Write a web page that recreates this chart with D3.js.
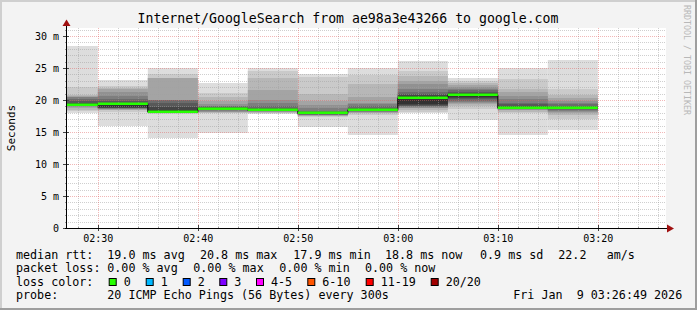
<!DOCTYPE html>
<html>
<head>
<meta charset="utf-8">
<script src="https://cdn.jsdelivr.net/npm/d3@7"></script>
<style>
  body { margin: 0; background: #f3f3f3; }
  svg { display: block; }
  text { font-family: "DejaVu Sans Mono", monospace; white-space: pre; }
</style>
</head>
<body>
<svg id="chart"></svg>
<script>
// 5 minute steps, label = end of step
const steps = ["02:30", "02:35", "02:40", "02:45", "02:50", "02:55", "03:00", "03:05", "03:10", "03:15", "03:20"];
const medians = [19.2, 19.4, 18.1, 18.65, 18.4, 17.9, 18.45, 20.3, 20.8, 18.75, 18.8];
// 20 sorted pings per step (ms)
const pings = [
  [18.0, 18.3, 18.5, 18.7, 18.9, 19.0, 19.1, 19.15, 19.2, 19.25, 19.3, 19.6, 19.9, 20.2, 20.4, 20.5, 20.6, 20.8, 22.0, 28.5],
  [15.9, 18.2, 18.4, 18.5, 18.6, 18.65, 18.7, 18.75, 18.8, 18.85, 19.3, 19.6, 19.9, 20.1, 20.6, 21.2, 21.7, 21.9, 22.2, 23.1],
  [14.0, 17.8, 17.9, 18.0, 18.05, 18.1, 18.1, 18.15, 18.2, 18.3, 18.4, 18.9, 19.5, 20.0, 20.0, 20.0, 23.4, 23.4, 24.0, 24.95],
  [14.9, 17.9, 18.0, 18.1, 18.2, 18.3, 18.4, 18.5, 18.55, 18.6, 18.7, 18.8, 18.9, 19.0, 19.1, 19.3, 19.8, 20.5, 21.1, 22.7],
  [17.75, 17.9, 18.0, 18.1, 18.2, 18.25, 18.3, 18.35, 18.4, 18.45, 18.5, 18.6, 18.8, 19.1, 19.5, 20.0, 21.6, 23.5, 24.5, 24.95],
  [15.8, 17.4, 17.5, 17.55, 17.6, 17.65, 17.7, 17.75, 17.8, 17.85, 17.95, 18.0, 18.1, 18.3, 18.7, 19.2, 19.8, 20.9, 23.6, 24.0],
  [14.6, 17.7, 17.9, 18.0, 18.1, 18.2, 18.25, 18.3, 18.35, 18.4, 18.5, 18.6, 18.8, 19.0, 19.3, 19.6, 20.5, 22.5, 23.9, 24.95],
  [17.9, 18.2, 18.5, 18.7, 18.8, 18.9, 19.0, 19.1, 19.2, 19.4, 20.6, 20.8, 21.0, 21.3, 21.7, 22.5, 23.0, 23.75, 24.5, 26.1],
  [16.8, 18.6, 19.0, 19.3, 19.5, 19.7, 19.9, 20.1, 20.3, 20.5, 20.9, 21.1, 21.3, 21.5, 21.7, 22.0, 22.3, 22.6, 23.0, 23.5],
  [14.5, 18.0, 18.2, 18.4, 18.5, 18.55, 18.6, 18.65, 18.7, 18.75, 18.8, 19.0, 19.3, 19.6, 20.1, 20.6, 21.2, 21.7, 23.3, 24.95],
  [15.3, 17.1, 17.6, 18.0, 18.2, 18.35, 18.45, 18.55, 18.6, 18.65, 18.75, 18.85, 19.0, 19.3, 19.6, 19.9, 20.3, 20.8, 21.7, 26.25]
];
const yTicks = [0, 5, 10, 15, 20, 25, 30];
const xTicks = ["02:30", "02:40", "02:50", "03:00", "03:10", "03:20"];
const lossLabels = ["0", "1", "2", "3", "4-5", "6-10", "11-19", "20/20"];
const lossColors = ["#26ff00", "#00b8ff", "#0059ff", "#7e00ff", "#ff00ff", "#ff5500", "#ff0000", "#a10000"];
const statsRtt = ["19.0 ms avg", "20.8 ms max", "17.9 ms min", "18.8 ms now", "0.9 ms sd", "22.2", "am/s"];
const statsLoss = ["0.00 % avg", "0.00 % max", "0.00 % min", "0.00 % now"];

const W = 697, H = 310;
const pLeft = 66, pRight = 666, pTop = 28, pBottom = 228;

const svg = d3.select("#chart").attr("width", W).attr("height", H);

// background + 3d border
svg.append("rect").attr("width", W).attr("height", H).attr("fill", "#f3f3f3");
svg.append("rect").attr("x", 0).attr("y", 0).attr("width", W).attr("height", 2).attr("fill", "#cfcfcf");
svg.append("rect").attr("x", 0).attr("y", 0).attr("width", 2).attr("height", H).attr("fill", "#cfcfcf");
svg.append("rect").attr("x", 0).attr("y", H - 2).attr("width", W).attr("height", 2).attr("fill", "#9e9e9e");
svg.append("rect").attr("x", W - 2).attr("y", 0).attr("width", 2).attr("height", H).attr("fill", "#9e9e9e");

const parseT = d3.timeParse("%H:%M:%S");
const parseHM = d3.timeParse("%H:%M");

let x = d3.scaleTime()
  .domain([parseT("02:26:49"), parseT("03:26:49")])
  .range([pLeft, pRight]);
let y = d3.scaleLinear()
  .domain([0, 31.25])
  .range([pBottom, pTop]);

const crisp = v => Math.round(v) + 0.5;
const stepStart = i => x(d3.timeMinute.offset(parseHM(steps[i]), -5));
const stepEnd = i => x(parseHM(steps[i]));

// plot canvas
svg.append("rect").attr("x", pLeft).attr("y", pTop).attr("width", pRight - pLeft).attr("height", pBottom - pTop).attr("fill", "#fff");

svg.append("clipPath").attr("id", "clip")
  .append("rect").attr("x", pLeft).attr("y", pTop).attr("width", pRight - pLeft).attr("height", pBottom - pTop);

let plot = svg.append("g").attr("clip-path", "url(#clip)");

// smoke: band k spans ping k to ping 21-k
for (let k = 1; k <= 10; k++) {
  let c = Math.floor(190 / 10 * (10 - k)) + 50;
  let col = d3.rgb(c, c, c).toString();
  plot.selectAll(null)
    .data(pings)
    .enter()
    .append("rect")
    .attr("x", (d, i) => stepStart(i))
    .attr("width", (d, i) => stepEnd(i) - stepStart(i))
    .attr("y", d => Math.round(y(d[20 - k])))
    .attr("height", d => Math.max(1, Math.round(y(d[k - 1])) - Math.round(y(d[20 - k]))))
    .attr("fill", col);
}

// grid over the smoke, semi transparent
let grid = svg.append("g");
let t0 = parseHM("02:28");
d3.range(1, 32).filter(v => v % 5 !== 0).forEach(function (v) {
  grid.append("line")
    .attr("x1", pLeft).attr("x2", pRight)
    .attr("y1", crisp(y(v))).attr("y2", crisp(y(v)))
    .attr("stroke", "#a0a0a0").attr("stroke-opacity", 0.5).attr("stroke-dasharray", "1,1");
});
for (let m = 0; m <= 58; m += 2) {
  let t = d3.timeMinute.offset(t0, m);
  if (t.getMinutes() % 10 === 0) continue;
  grid.append("line")
    .attr("x1", crisp(x(t))).attr("x2", crisp(x(t)))
    .attr("y1", pTop).attr("y2", pBottom)
    .attr("stroke", "#a0a0a0").attr("stroke-opacity", 0.5).attr("stroke-dasharray", "1,1");
}
yTicks.filter(v => v > 0).forEach(function (v) {
  grid.append("line")
    .attr("x1", pLeft).attr("x2", pRight)
    .attr("y1", crisp(y(v))).attr("y2", crisp(y(v)))
    .attr("stroke", "#e06060").attr("stroke-opacity", 0.45).attr("stroke-dasharray", "1,1");
});
xTicks.forEach(function (s) {
  let xx = crisp(x(parseHM(s)));
  grid.append("line")
    .attr("x1", xx).attr("x2", xx)
    .attr("y1", pTop).attr("y2", pBottom)
    .attr("stroke", "#e06060").attr("stroke-opacity", 0.45).attr("stroke-dasharray", "1,1");
});

// median: black step connector, then green per step
let medPts = [];
steps.forEach(function (s, i) {
  medPts.push([stepStart(i), y(medians[i])]);
  medPts.push([stepEnd(i), y(medians[i])]);
});
let medLayer = svg.append("g").attr("clip-path", "url(#clip)");
medLayer.append("path")
  .attr("d", d3.line()(medPts))
  .attr("fill", "none")
  .attr("stroke", "#000")
  .attr("stroke-width", 1);

medLayer.selectAll(null)
  .data(medians)
  .enter()
  .append("rect")
  .attr("x", (d, i) => stepStart(i))
  .attr("width", (d, i) => stepEnd(i) - stepStart(i))
  .attr("y", d => Math.round(y(d)) - 1.5)
  .attr("height", 2.5)
  .attr("fill", lossColors[0]);

// axes
let yAxis = d3.axisLeft(y)
  .tickValues(yTicks)
  .tickSize(0)
  .tickPadding(7)
  .tickFormat(d => d === 0 ? "0" : d + " m");
let gy = svg.append("g").attr("transform", "translate(" + pLeft + ",0)").call(yAxis);
gy.select(".domain").remove();
gy.selectAll("text").attr("font-family", "DejaVu Sans Mono").attr("font-size", 10).attr("fill", "#000");

let xAxis = d3.axisBottom(x)
  .tickValues(xTicks.map(s => parseHM(s)))
  .tickSize(0)
  .tickPadding(6.5)
  .tickFormat(d3.timeFormat("%H:%M"));
let gx = svg.append("g").attr("transform", "translate(0," + pBottom + ")").call(xAxis);
gx.select(".domain").remove();
gx.selectAll("text").attr("font-family", "DejaVu Sans Mono").attr("font-size", 10).attr("fill", "#000");

// tick marks on the axis lines
d3.range(0, 32).forEach(function (v) {
  let major = v % 5 === 0;
  svg.append("line")
    .attr("x1", major ? pLeft - 3 : pLeft - 1).attr("x2", major ? pLeft + 3 : pLeft + 1)
    .attr("y1", crisp(y(v))).attr("y2", crisp(y(v)))
    .attr("stroke", major ? "#444" : "#999");
});
for (let m = 0; m <= 58; m += 2) {
  let t = d3.timeMinute.offset(t0, m);
  let major = t.getMinutes() % 10 === 0;
  svg.append("line")
    .attr("x1", crisp(x(t))).attr("x2", crisp(x(t)))
    .attr("y1", major ? pBottom - 3 : pBottom - 1).attr("y2", major ? pBottom + 3 : pBottom + 1)
    .attr("stroke", major ? "#444" : "#999");
}

svg.append("line").attr("x1", pLeft + 0.5).attr("x2", pLeft + 0.5).attr("y1", pBottom + 1).attr("y2", 23).attr("stroke", "#000");
svg.append("line").attr("x1", pLeft - 1).attr("x2", 670).attr("y1", pBottom + 0.5).attr("y2", pBottom + 0.5).attr("stroke", "#000");
svg.append("path").attr("d", "M" + (pLeft - 3.5) + ",26L" + (pLeft + 0.5) + ",19.5L" + (pLeft + 4.5) + ",26Z").attr("fill", "#a01010");
svg.append("path").attr("d", "M667,224.5L674,228.5L667,232.5Z").attr("fill", "#a01010");

// title, vertical label, watermark
svg.append("text").attr("x", 348).attr("y", 23).attr("text-anchor", "middle")
  .attr("font-size", 13.2).attr("fill", "#000")
  .text("Internet/GoogleSearch from ae98a3e43266 to google.com");

svg.append("text").attr("transform", "translate(14.5,128) rotate(-90)")
  .attr("text-anchor", "middle").attr("font-family", "DejaVu Sans").attr("font-size", 11)
  .attr("fill", "#000").text("Seconds");

svg.append("text").attr("transform", "translate(684,5) rotate(90)")
  .attr("font-size", 8.3).attr("fill", "#b8b8b8")
  .text("RRDTOOL / TOBI OETIKER");

// legend
const lf = 11.7;
function ltext(xx, yy, s) {
  svg.append("text").attr("x", xx).attr("y", yy).attr("font-size", lf).attr("fill", "#000").text(s);
}
const row = [258.5, 272, 285.5, 299];
ltext(16, row[0], "median rtt:");
[107.3, 200, 293.3, 385, 480, 558.3, 606.7].forEach((xx, i) => ltext(xx, row[0], statsRtt[i]));
ltext(16, row[1], "packet loss:");
[107.3, 193.3, 279.3, 365].forEach((xx, i) => ltext(xx, row[1], statsLoss[i]));
ltext(16, row[2], "loss color:");
const boxX = [108.7, 145.7, 182.7, 219.3, 256, 307.3, 365.7, 430.7];
lossLabels.forEach(function (lab, i) {
  svg.append("rect").attr("x", boxX[i] + 0.5).attr("y", 278.5).attr("width", 7).attr("height", 7)
    .attr("fill", lossColors[i]).attr("stroke", "#000");
  ltext(boxX[i] + 15, row[2], lab);
});
ltext(16, row[3], "probe:");
ltext(107.3, row[3], "20 ICMP Echo Pings (56 Bytes) every 300s");
ltext(513.3, row[3], "Fri Jan  9 03:26:49 2026");
</script>
</body>
</html>
